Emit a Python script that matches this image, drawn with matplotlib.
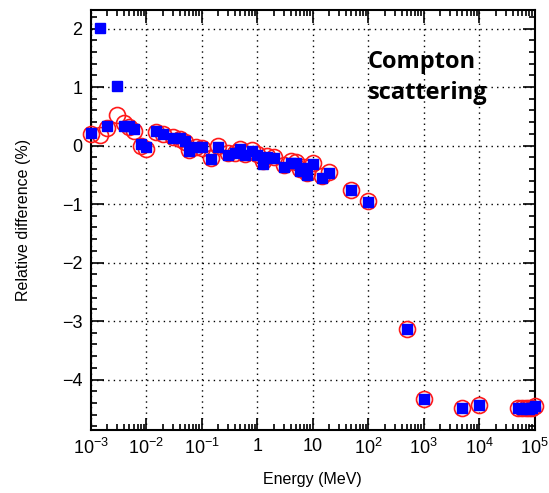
import numpy as np
import matplotlib
matplotlib.use("Agg")
import matplotlib.pyplot as plt
from matplotlib.ticker import LogLocator, MultipleLocator, FuncFormatter, NullFormatter

plt.rcParams['font.family'] = ['Liberation Sans', 'DejaVu Sans']
plt.rcParams['mathtext.fontset'] = 'custom'
plt.rcParams['mathtext.rm'] = 'Liberation Sans'
plt.rcParams['mathtext.it'] = 'Liberation Sans'

# energies (MeV)
energy = [1e-3, 1.5e-3, 2e-3, 3e-3, 4e-3, 5e-3, 6e-3, 8e-3,
          1e-2, 1.5e-2, 2e-2, 3e-2, 4e-2, 5e-2, 6e-2, 8e-2,
          0.1, 0.15, 0.2, 0.3, 0.4, 0.5, 0.6, 0.8,
          1, 1.25, 1.5, 2, 3, 4, 5, 6, 7, 8, 10, 15, 20,
          50, 100, 500, 1000, 5000, 1e4,
          5e4, 6e4, 7e4, 8e4, 9e4, 1e5]

# relative difference (%), filled squares
diff_sq = [0.21, 2.01, 0.34, 1.01, 0.34, 0.33, 0.29, 0.02,
           -0.02, 0.25, 0.19, 0.13, 0.13, 0.07, -0.10, -0.03,
           -0.03, -0.23, -0.02, -0.16, -0.13, -0.05, -0.16, -0.10,
           -0.16, -0.31, -0.20, -0.22, -0.37, -0.29, -0.30, -0.44, -0.38, -0.51, -0.32, -0.55, -0.47,
           -0.76, -0.96, -3.14, -4.34, -4.48, -4.44,
           -4.49, -4.50, -4.49, -4.50, -4.48, -4.46]

# relative difference (%), open circles
diff_circ = [0.20, 0.18, 0.30, 0.53, 0.38, 0.32, 0.25, 0.00,
             -0.06, 0.24, 0.20, 0.14, 0.12, 0.06, -0.08, -0.02,
             -0.04, -0.22, 0.00, -0.13, -0.12, -0.06, -0.14, -0.08,
             -0.14, -0.27, -0.18, -0.20, -0.34, -0.27, -0.28, -0.40, -0.36, -0.47, -0.30, -0.52, -0.45,
             -0.76, -0.95, -3.14, -4.33, -4.48, -4.43,
             -4.49, -4.49, -4.49, -4.49, -4.48, -4.45]

W, H = 549, 493
fig = plt.figure(figsize=(W / 100, H / 100), dpi=100)
ax = fig.add_axes([0.165, 0.128, 0.809, 0.852])

# markers are not clipped at the frame
ax.plot(energy, diff_circ, 'o', ms=11.5, mfc='none', mec='#ff1a1a', mew=1.2,
        zorder=3, clip_on=False)
ax.plot(energy, diff_sq, 's', ms=7.2, color='#0000ff', mec='#0000ff',
        zorder=4, clip_on=False)

ax.set_xscale('log')
ax.set_xlim(1e-3, 1e5)
ax.set_ylim(-4.86, 2.32)

def xfmt(v, pos):
    n = int(round(np.log10(v)))
    if n == 0:
        return '1'
    if n == 1:
        return '10'
    return r'$10^{%d}$' % n

ax.xaxis.set_major_locator(LogLocator(base=10, numticks=20))
ax.xaxis.set_minor_locator(LogLocator(base=10, subs=np.arange(2, 10), numticks=100))
ax.xaxis.set_major_formatter(FuncFormatter(xfmt))
ax.xaxis.set_minor_formatter(NullFormatter())
ax.yaxis.set_major_locator(MultipleLocator(1))
ax.yaxis.set_minor_locator(MultipleLocator(0.2))
ax.yaxis.set_major_formatter(FuncFormatter(lambda v, p: '%d' % v if v >= 0 else '\u2212%d' % -v))

ax.tick_params(which='both', direction='in', top=True, right=True, labelsize=13, width=1.2)
ax.tick_params(which='major', length=9, pad=6)
ax.tick_params(which='minor', length=4.5)
for s in ax.spines.values():
    s.set_linewidth(1.5)

ax.grid(True, which='major', linestyle=(0, (1, 3)), color='black', linewidth=1.0)

ax.set_xlabel('Energy (MeV)', fontsize=11.5, labelpad=10)
ax.set_ylabel('Relative difference (%)', fontsize=11.5, labelpad=22)

# label placed in pixel position from the top-left corner
ax.text(368 / W, 1 - 50 / H, 'Compton\nscattering', transform=fig.transFigure,
        fontsize=17, fontweight='bold', family=['Open Sans', 'DejaVu Sans'],
        va='top', ha='left', linespacing=1.4)

fig.savefig('out.png', dpi=100)
